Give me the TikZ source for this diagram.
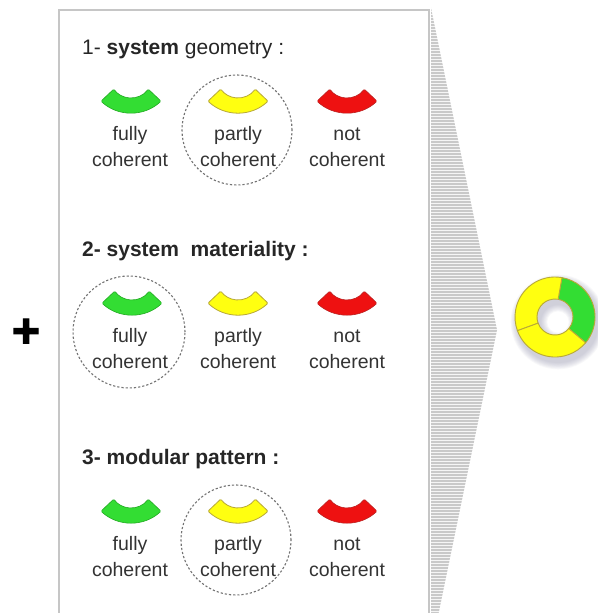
\documentclass[tikz,border=0pt]{standalone}
\usepackage{fontspec}
\setmainfont{Liberation Sans}
\newfontfamily\heavyfont[FakeBold=2.5]{Liberation Sans Bold}
\definecolor{okgreen}{HTML}{33DD33}
\definecolor{okgreenedge}{HTML}{22AA22}
\definecolor{midyellow}{HTML}{FFFF10}
\definecolor{midyellowedge}{HTML}{B8A838}
\definecolor{badred}{HTML}{EE1111}
\definecolor{badrededge}{HTML}{BB2222}
\definecolor{txt}{HTML}{333333}
\definecolor{shadowcol}{HTML}{8C8CA8}

% one "smile" marker: centre x, bottom y, style
% (flat outer arc, deeper inner arc)
\newcommand\arcmark[3]{%
  \draw[#3] ([shift={(227:44)}]#1,#2+44) arc[start angle=227,end angle=313,radius=44]
    -- ([shift={(325:21)}]#1,#2+36) arc[start angle=325,end angle=215,radius=21] -- cycle;}

% one sector of the summary ring: start angle, end angle, style
\newcommand\ringpart[3]{%
  \draw[#3] ([shift={(#1:40)}]dc) arc[start angle=#1,end angle=#2,radius=40]
    -- ([shift={(#2:18)}]dc) arc[start angle=#2,end angle=#1,radius=18] -- cycle;}

\begin{document}
\begin{tikzpicture}[x=1pt,y=1pt,
  title/.style={anchor=base west,inner sep=0pt,text=black!85,font=\fontsize{21}{24}\selectfont},
  label/.style={anchor=base,text=txt,font=\fontsize{19.5}{24}\selectfont},
  choice/.style={draw=black!55,line width=1.1pt,dash pattern=on 2.2pt off 2pt},
  hatch/.style={draw=gray!42,line width=1.1pt},
  greenmark/.style={fill=okgreen,draw=okgreenedge,line width=0.6pt,rounded corners=1.2pt},
  yellowmark/.style={fill=midyellow,draw=midyellowedge,line width=0.8pt,rounded corners=1.2pt},
  redmark/.style={fill=badred,draw=badrededge,line width=0.6pt,rounded corners=1.2pt},
  ringedge/.style={line width=0.9pt,draw=midyellowedge}]
\useasboundingbox (0,0) rectangle (597,613);
\fill[white] (0,0) rectangle (597,613);

% hatched chevron pointing to the result
\begin{scope}
  \clip (431,605) -- (497,283) -- (431,-37) -- cycle;
  \fill[gray!8] (425,-40) rectangle (500,610);
  \foreach \y in {0,3,...,606} \draw[hatch] (425,\y) -- (500,\y);
\end{scope}

% frame of the criteria panel (open at the bottom)
\draw[gray!45,line width=2pt] (59,-5) -- (59,603) -- (429,603) -- (429,-5);

% plus sign
\node[font=\fontsize{48}{48}\heavyfont] (plus) at (26,280) {+};

% ---- 1: system geometry
\node[title] (t1) at (82,558) {1- \textbf{system} geometry :};
\arcmark{131}{500}{greenmark}
\arcmark{238}{500}{yellowmark}
\arcmark{347}{500}{redmark}
\node[label] (a1) at (130,472) {fully};
\node[label] (b1) at (130,446) {coherent};
\node[label] (c1) at (238,472) {partly};
\node[label] (d1) at (238,446) {coherent};
\node[label] (e1) at (347,472) {not};
\node[label] (f1) at (347,446) {coherent};
\draw[choice] (237,483) circle (55);

% ---- 2: system materiality
\node[title,font=\fontsize{21}{24}\selectfont\bfseries] (t2) at (82,356) {2- system\ \ materiality :};
\arcmark{132}{298}{greenmark}
\arcmark{238}{298}{yellowmark}
\arcmark{347}{298}{redmark}
\node[label] (a2) at (130,270) {fully};
\node[label] (b2) at (130,244) {coherent};
\node[label] (c2) at (238,270) {partly};
\node[label] (d2) at (238,244) {coherent};
\node[label] (e2) at (347,270) {not};
\node[label] (f2) at (347,244) {coherent};
\draw[choice] (129,281) circle (56);

% ---- 3: modular pattern
\node[title,font=\fontsize{21}{24}\selectfont\bfseries] (t3) at (82,148) {3- modular pattern :};
\arcmark{131}{90}{greenmark}
\arcmark{238}{90}{yellowmark}
\arcmark{347}{90}{redmark}
\node[label] (a3) at (130,62) {fully};
\node[label] (b3) at (130,36) {coherent};
\node[label] (c3) at (238,62) {partly};
\node[label] (d3) at (238,36) {coherent};
\node[label] (e3) at (347,62) {not};
\node[label] (f3) at (347,36) {coherent};
\draw[choice] (236,73) circle (55);

% ---- summary ring with soft shadow
\coordinate (dc) at (555,296);
\foreach \i in {0,...,7}
  \fill[shadowcol,opacity=0.06,even odd rule]
    ([shift={(3,-5)}]dc) circle ({41+\i*0.9}) ([shift={(3,-5)}]dc) circle ({max(17-\i*0.9,1)});
\ringpart{-40}{80}{fill=okgreen,ringedge}
\ringpart{80}{200}{fill=midyellow,ringedge}
\ringpart{200}{320}{fill=midyellow,ringedge}
\end{tikzpicture}
\end{document}
